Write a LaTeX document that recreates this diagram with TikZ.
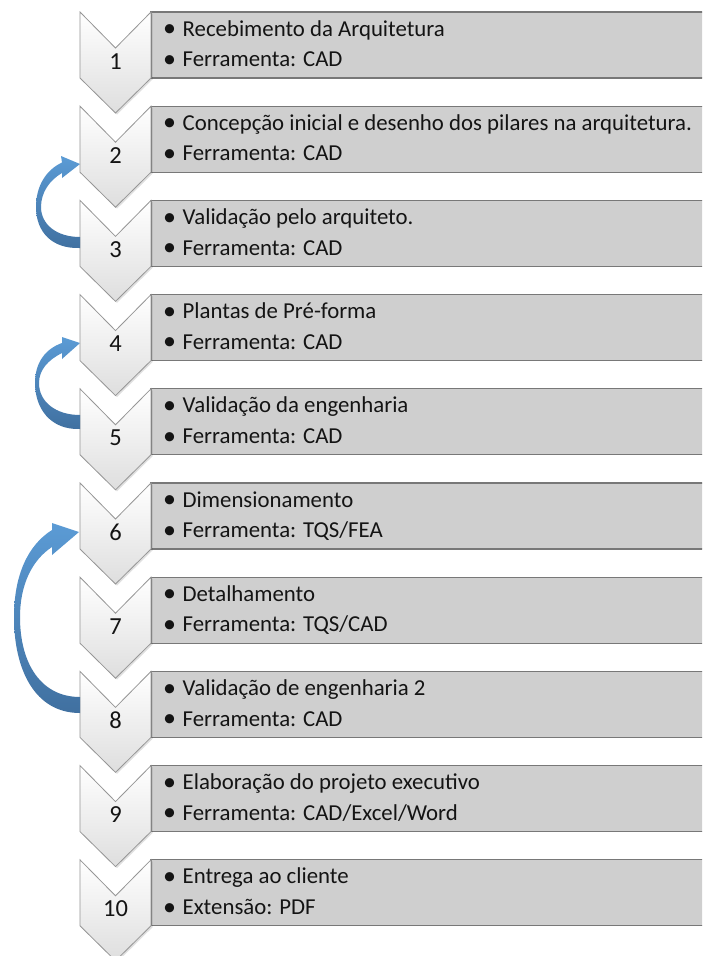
\documentclass[tikz,border=0pt]{standalone}
\usepackage{fontspec}
\setmainfont{Carlito}
\usetikzlibrary{calc}

\definecolor{boxgray}{RGB}{207,207,207}
\definecolor{boxedge}{RGB}{120,120,120}
\definecolor{chevedge}{RGB}{150,150,150}
\definecolor{chevbot}{RGB}{222,222,222}
\definecolor{arrowtop}{RGB}{91,155,213}
\definecolor{arrowbot}{RGB}{64,112,160}
\definecolor{inktext}{RGB}{20,20,20}

\tikzset{
  stepbox/.style={fill=boxgray, draw=boxedge, line width=1.1pt},
  chevron/.style={top color=white, bottom color=chevbot, draw=chevedge, line width=0.8pt, line join=miter},
  chevshadow/.style={fill=black, opacity=0.12},
  itemtext/.style={inner sep=0pt, anchor=base west, text=inktext,
    font=\fontsize{22.8}{26}\selectfont},
  bullettext/.style={inner sep=0pt, anchor=base, text=inktext,
    font=\fontsize{26}{28}\selectfont},
  numtext/.style={inner sep=0pt, anchor=base, text=inktext,
    font=\fontsize{24.5}{28}\selectfont},
  loopback/.style={top color=arrowtop, bottom color=arrowbot, draw=none},
}

\begin{document}
\begin{tikzpicture}[x=1pt, y=-1pt]
\useasboundingbox (0,0) rectangle (702,956);
\clip (0,0) rectangle (702,956);
\fill[white] (0,0) rectangle (702,956);

% the ten process steps: a grey panel with two bullet lines and a numbered chevron
\foreach \k/\lineA/\lineB in {
  1/{Recebimento da Arquitetura}/{Ferramenta: CAD},
  2/{Concepção inicial e desenho dos pilares na arquitetura.}/{Ferramenta: CAD},
  3/{Validação pelo arquiteto.}/{Ferramenta: CAD},
  4/{Plantas de Pré-forma}/{Ferramenta: CAD},
  5/{Validação da engenharia}/{Ferramenta: CAD},
  6/{Dimensionamento}/{Ferramenta: TQS/FEA},
  7/{Detalhamento}/{Ferramenta: TQS/CAD},
  8/{Validação de engenharia 2}/{Ferramenta: CAD},
  9/{Elaboração do projeto executivo}/{Ferramenta: CAD/Excel/Word},
  10/{Entrega ao cliente}/{Extensão: PDF}} {
  \pgfmathsetmacro\t{12+94.2*(\k-1)}
  % panel
  \path[stepbox] (151,\t) rectangle (712,{\t+66});
  % chevron with a soft shadow
  \path[chevshadow] (81.5,{\t+1.5}) -- (117,{\t+37.5}) -- (152.5,{\t+1.5})
     -- (152.5,{\t+67.5}) -- (117,{\t+102.5}) -- (81.5,{\t+67.5}) -- cycle;
  \path[chevron] (80,\t) -- (115.5,{\t+36}) -- (151,\t) -- (151,{\t+66})
     -- (115.5,{\t+101}) -- (80,{\t+66}) -- cycle;
  \coordinate (w\k) at (80,{\t+51});
  % number and text
  \node[numtext] (n\k) at (115.5,{\t+57}) {\k};
  \node[bullettext] (ba\k) at (169.5,{\t+24.6}) {•};
  \node[itemtext] (ta\k) at (182.5,{\t+24}) {\lineA};
  \node[bullettext] (bb\k) at (169.5,{\t+55.2}) {•};
  \node[itemtext] (tb\k) at (182.5,{\t+54.6}) {\lineB};
}

% loop-back arrows: 3 -> 2
\path[loopback] (80,248) .. controls (52,249) and (36,232) .. (36,207)
  .. controls (36,186) and (46,170) .. (62,162.5) -- (61,156) -- (80,164)
  -- (62,178) -- (62,173) .. controls (50,180) and (41,192) .. (41,207)
  .. controls (41,224) and (56,237) .. (80,237) -- cycle;

% 5 -> 4
\path[loopback] (80,429) .. controls (50,430) and (35,408) .. (35,383)
  .. controls (35,363) and (45,349) .. (62,343) -- (62,337) -- (80,343)
  -- (62,359) -- (62,353) .. controls (48,360) and (39,370) .. (39,383)
  .. controls (39,402) and (56,415) .. (80,415) -- cycle;

% 8 -> 6
\path[loopback] (80,713) .. controls (35,713) and (14,670) .. (14,617)
  .. controls (14,575) and (28,545) .. (52,530) -- (52,523) -- (79,532)
  -- (52,555) -- (52,547) .. controls (32,560) and (20,585) .. (20,617)
  .. controls (20,665) and (42,697) .. (80,697) -- cycle;
\end{tikzpicture}
\end{document}
